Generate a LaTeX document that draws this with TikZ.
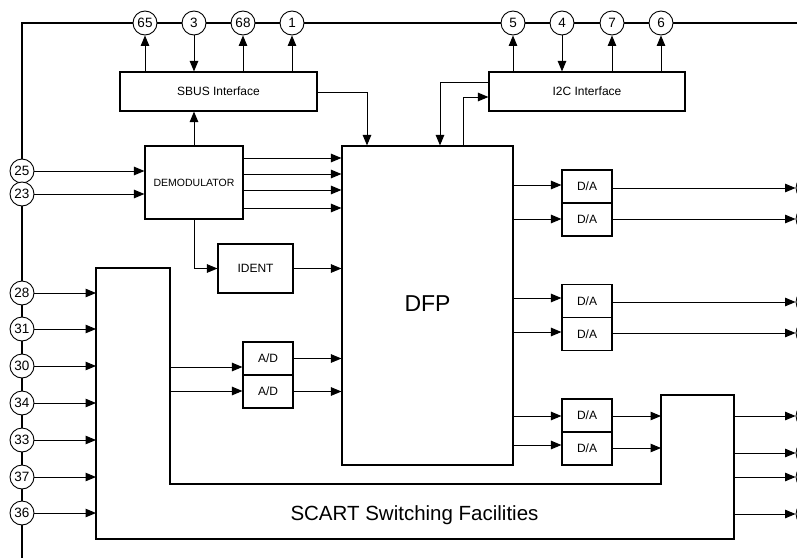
\documentclass[tikz,border=0pt]{standalone}
\usepackage{fontspec}
\setmainfont{Liberation Sans}
\usetikzlibrary{arrows.meta}
\tikzset{
  pin/.style={circle,draw,fill=white,line width=0.9pt,minimum size=24pt,inner sep=0pt,font=\fontsize{13.5}{13.5}\selectfont},
  blk/.style={draw,fill=white,line width=1.1pt,inner sep=0pt,font=\fontsize{12}{12}\selectfont},
  con/.style={line width=1pt},
  arr/.style={line width=1pt,-{Triangle[length=10.5pt,width=8.5pt]}},
  bus/.style={line width=2.6pt}
}
\begin{document}
\begin{tikzpicture}[x=1pt,y=-1pt]
\useasboundingbox (0,0) rectangle (797,557);
\clip (0,0) rectangle (797,557);
% bus
\coordinate (busR) at (800,23);
\coordinate (busC) at (22,23);
\coordinate (busB) at (22,560);
\draw[bus] (busR) -- (busC) -- (busB);
% top pins
\foreach \n/\x in {65/145,3/194,68/243,1/292,5/513,4/562,7/612,6/661}
  \node[pin] (p\n) at (\x,23) {\n};
% left pins
\foreach \n/\y in {25/171,23/194,28/293,31/329,30/366,34/403,33/440,37/477,36/513}
  \node[pin] (p\n) at (22,\y) {\n};
% right (clipped) pins
\foreach \i/\y in {1/188,2/219,3/302,4/333,5/416,6/453,7/477,8/514}
  \node[pin] (o\i) at (808,\y) {};
% blocks
\node[blk,minimum width=197pt,minimum height=39pt] (sbus) at (218.5,91.5) {SBUS Interface};
\node[blk,minimum width=196pt,minimum height=39pt] (i2c) at (587,91.5) {I2C Interface};
\node[blk,minimum width=98pt,minimum height=73pt,font=\fontsize{10.5}{10.5}\selectfont] (demod) at (194,182.5) {DEMODULATOR};
\node[blk,minimum width=75pt,minimum height=49pt] (ident) at (255.5,268.5) {IDENT};
\node[blk,minimum width=171pt,minimum height=319pt] (dfp) at (427.5,305.5) {};
\node[font=\fontsize{23}{23}\selectfont] (dfpt) at (427.5,304) {DFP};
\node[blk,minimum width=50pt,minimum height=33pt] (ad1) at (268,358.5) {A/D};
\node[blk,minimum width=50pt,minimum height=33pt] (ad2) at (268,391.5) {A/D};
\node[blk,minimum width=50pt,minimum height=33pt] (da1) at (587,186.5) {D/A};
\node[blk,minimum width=50pt,minimum height=33pt] (da2) at (587,219.5) {D/A};
\node[blk,minimum width=50pt,minimum height=33pt] (da3) at (587,301) {D/A};
\node[blk,minimum width=50pt,minimum height=33pt] (da4) at (587,334) {D/A};
\node[blk,minimum width=50pt,minimum height=33pt] (da5) at (587,415.5) {D/A};
\node[blk,minimum width=50pt,minimum height=33pt] (da6) at (587,448.5) {D/A};
% SCART polygon
\coordinate (s1) at (96,268);
\coordinate (s2) at (170,268);
\coordinate (s3) at (170,484);
\coordinate (s4) at (661,484);
\coordinate (s5) at (661,395);
\coordinate (s6) at (734,395);
\coordinate (s7) at (734,539);
\coordinate (s8) at (96,539);
\draw[line width=1.1pt] (s1) -- (s2) -- (s3) -- (s4) -- (s5) -- (s6) -- (s7) -- (s8) -- cycle;
\node[font=\fontsize{20.5}{20.5}\selectfont] (scart) at (414.5,515) {SCART Switching Facilities};
% pin connections top
\draw[arr] (sbus.north -| p65) -- (p65.south);
\draw[arr] (p3.south) -- (sbus.north -| p3);
\draw[arr] (sbus.north -| p68) -- (p68.south);
\draw[arr] (sbus.north -| p1) -- (p1.south);
\draw[arr] (i2c.north -| p5) -- (p5.south);
\draw[arr] (p4.south) -- (i2c.north -| p4);
\draw[arr] (i2c.north -| p7) -- (p7.south);
\draw[arr] (i2c.north -| p6) -- (p6.south);
% SBUS / I2C to DFP
\draw[arr] (sbus.east |- 0,92) -| (dfp.north -| 367,0);
\draw[arr] (i2c.west |- 0,82) -| (dfp.north -| 440,0);
\draw[arr] (dfp.north -| 463,0) |- (i2c.west |- 0,97);
% demod
\draw[arr] (demod.north) -- (sbus.south -| demod);
\draw[arr] (p25.east) -- (demod.west |- p25);
\draw[arr] (p23.east) -- (demod.west |- p23);
\foreach \y in {158,174,190,208}
  \draw[arr] (demod.east |- 0,\y) -- (dfp.west |- 0,\y);
\draw[arr] (demod.south) |- (ident.west);
\draw[arr] (ident.east) -- (dfp.west |- ident);
% left pins to SCART
\foreach \n in {28,31,30,34,33,37,36}
  \draw[arr] (p\n.east) -- (s1 |- p\n);
% A/D
\draw[arr] (s2 |- 0,367) -- (ad1.west |- 0,367);
\draw[arr] (s2 |- 0,391) -- (ad2.west |- 0,391);
\draw[arr] (ad1.east) -- (dfp.west |- ad1);
\draw[arr] (ad2.east) -- (dfp.west |- ad2);
% DFP to D/A
\foreach \i/\y in {1/185,2/219,3/298,4/332,5/416,6/445}
  \draw[arr] (dfp.east |- 0,\y) -- (da\i.west |- 0,\y);
% D/A outputs
\draw[arr] (da1.east |- o1) -- (o1.west);
\draw[arr] (da2.east |- o2) -- (o2.west);
\draw[arr] (da3.east |- o3) -- (o3.west);
\draw[arr] (da4.east |- o4) -- (o4.west);
\draw[arr] (da5.east |- 0,416) -- (s5 |- 0,416);
\draw[arr] (da6.east |- 0,448) -- (s5 |- 0,448);
% SCART outputs
\foreach \i in {5,6,7,8}
  \draw[arr] (s6 |- o\i) -- (o\i.west);
\end{tikzpicture}
\end{document}
